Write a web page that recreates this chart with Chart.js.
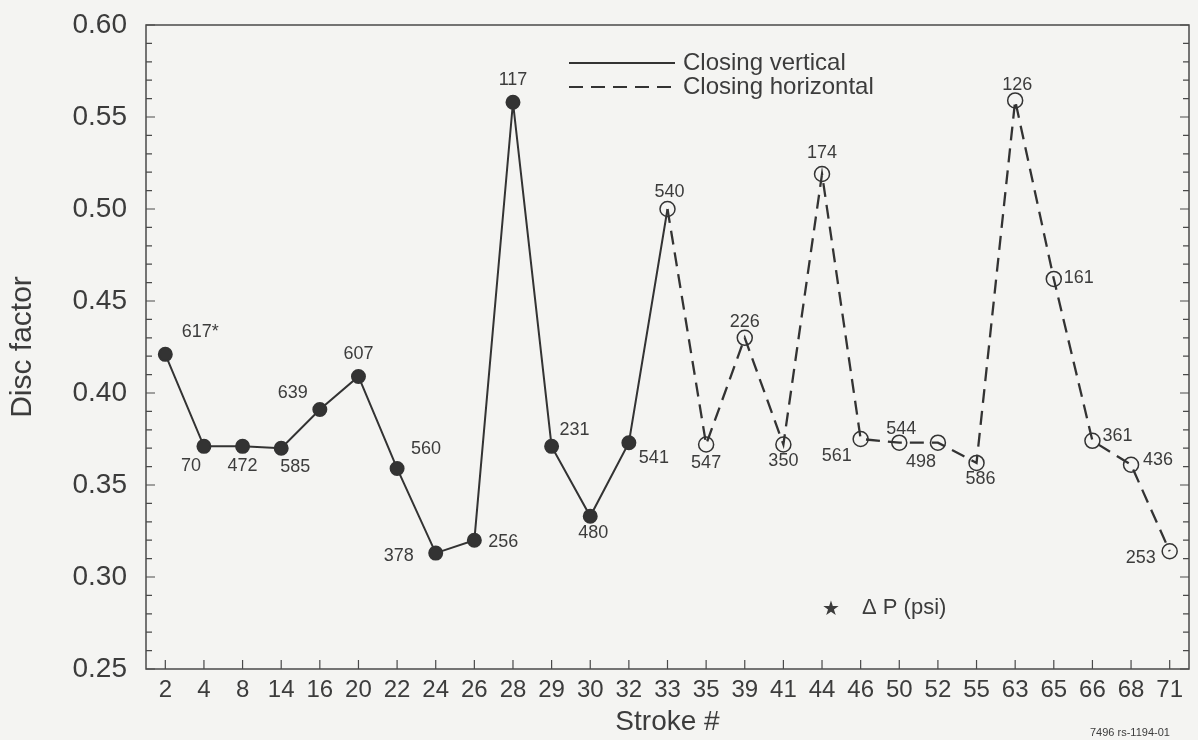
<!DOCTYPE html>
<html>
<head>
<meta charset="utf-8">
<title>Disc factor by stroke</title>
<script src="https://cdn.jsdelivr.net/npm/chart.js@4.4.1/dist/chart.umd.min.js"></script>
<style>
  html, body { margin: 0; padding: 0; background: #f4f4f2; }
  #wrap { width: 1198px; height: 740px; position: relative; }
</style>
</head>
<body>
<div id="wrap"><canvas id="discChart" width="1198" height="740"></canvas></div>
<script>
  // stroke numbers along the x axis
  const strokes = ["2", "4", "8", "14", "16", "20", "22", "24", "26", "28", "29", "30", "32", "33",
    "35", "39", "41", "44", "46", "50", "52", "55", "63", "65", "66", "68", "71"];

  // disc factor, closing vertical (strokes 2 .. 33)
  const closingVertical = [0.421, 0.371, 0.371, 0.370, 0.391, 0.409, 0.359, 0.313, 0.320, 0.558,
    0.371, 0.333, 0.373, 0.500];

  // disc factor, closing horizontal (strokes 33 .. 71)
  const closingHorizontal = [0.500, 0.372, 0.430, 0.372, 0.519, 0.375, 0.373, 0.373, 0.362, 0.559,
    0.462, 0.374, 0.361, 0.314];

  // delta P (psi) written next to each stroke
  const deltaP = ["617*", "70", "472", "585", "639", "607", "560", "378", "256", "117", "231", "480",
    "541", "540", "547", "226", "350", "174", "561", "544", "498", "586", "126", "161", "361", "436", "253"];

  const yTicks = [0.25, 0.30, 0.35, 0.40, 0.45, 0.50, 0.55, 0.60];

  const FONT = "'Liberation Sans', Arial, Helvetica, sans-serif";
  const INK = "#333";
  const TEXT = "#3c3c3c";

  const split = closingVertical.length - 1;
  const vertData = strokes.map((s, i) => (i <= split ? closingVertical[i] : null));
  const horizData = strokes.map((s, i) => (i >= split ? closingHorizontal[i - split] : null));

  // where each delta P label sits relative to its point
  const labelOffsets = [
    [35, -22], [-13, 20], [0, 20], [14, 19], [-27, -17], [0, -22], [29, -19], [-37, 3], [29, 2],
    [0, -22], [23, -16], [3, 17], [25, 15], [2, -17], [0, 19], [0, -16], [0, 17], [0, -21],
    [-24, 17], [2, -14], [-17, 19], [4, 16], [2, -15], [25, -1], [25, -5], [27, -5], [-29, 7]
  ];

  const paper = {
    id: "paper",
    beforeDraw(chart) {
      const ctx = chart.ctx;
      ctx.save();
      ctx.fillStyle = "#f4f4f2";
      ctx.fillRect(0, 0, chart.width, chart.height);
      ctx.restore();
    }
  };

  // plot frame with inward tick marks on left, right and bottom
  const frame = {
    id: "frame",
    beforeDatasetsDraw(chart) {
      const { ctx, chartArea: a, scales } = chart;
      ctx.save();
      ctx.strokeStyle = "#4a4a4a";
      ctx.lineWidth = 1.5;
      ctx.strokeRect(a.left, a.top, a.right - a.left, a.bottom - a.top);
      ctx.lineWidth = 1.2;
      ctx.beginPath();
      for (let i = 25; i <= 60; i++) {
        const y = scales.y.getPixelForValue(i / 100);
        const len = i % 5 === 0 ? 9 : 6;
        ctx.moveTo(a.left, y); ctx.lineTo(a.left + len, y);
        ctx.moveTo(a.right, y); ctx.lineTo(a.right - len, y);
      }
      strokes.forEach((s, i) => {
        const x = scales.x.getPixelForValue(i);
        ctx.moveTo(x, a.bottom); ctx.lineTo(x, a.bottom - 9);
      });
      ctx.stroke();
      ctx.restore();
    }
  };

  // delta P labels, legend and notes
  const notes = {
    id: "notes",
    afterDraw(chart) {
      const ctx = chart.ctx;
      ctx.save();
      ctx.fillStyle = TEXT;
      ctx.font = "18px " + FONT;
      ctx.textAlign = "center";
      ctx.textBaseline = "middle";
      const mv = chart.getDatasetMeta(0).data;
      const mh = chart.getDatasetMeta(1).data;
      deltaP.forEach((t, i) => {
        const p = i <= split ? mv[i] : mh[i];
        const [dx, dy] = labelOffsets[i];
        ctx.fillText(t, p.x + dx, p.y + dy);
      });

      // legend
      ctx.strokeStyle = INK;
      ctx.lineWidth = 2;
      ctx.beginPath();
      ctx.moveTo(569, 63); ctx.lineTo(675, 63);
      ctx.stroke();
      ctx.setLineDash([14, 8]);
      ctx.beginPath();
      ctx.moveTo(569, 87); ctx.lineTo(675, 87);
      ctx.stroke();
      ctx.setLineDash([]);
      ctx.textAlign = "left";
      ctx.font = "24px " + FONT;
      ctx.fillText("Closing vertical", 683, 63);
      ctx.fillText("Closing horizontal", 683, 87);

      ctx.font = "20px " + FONT;
      ctx.fillText("\u2605", 822, 609);
      ctx.font = "22px " + FONT;
      ctx.fillText("\u0394 P (psi)", 862, 608);

      ctx.font = "11px " + FONT;
      ctx.fillText("7496 rs-1194-01", 1090, 733);
      ctx.restore();
    }
  };

  new Chart(document.getElementById("discChart"), {
    type: "line",
    data: {
      labels: strokes,
      datasets: [
        {
          label: "Closing vertical",
          data: vertData,
          borderColor: INK,
          borderWidth: 2,
          pointBackgroundColor: INK,
          pointBorderColor: INK,
          pointRadius: strokes.map((s, i) => (i < split ? 6.5 : 0)),
          tension: 0,
          spanGaps: false
        },
        {
          label: "Closing horizontal",
          data: horizData,
          borderColor: INK,
          borderWidth: 2.3,
          borderDash: [14, 8],
          pointBackgroundColor: "rgba(0,0,0,0)",
          pointBorderColor: INK,
          pointBorderWidth: 1.5,
          pointRadius: 7.5,
          tension: 0,
          spanGaps: false
        }
      ]
    },
    options: {
      responsive: false,
      animation: false,
      layout: { padding: { left: 0, right: 2, top: 25, bottom: 0 } },
      plugins: {
        legend: { display: false },
        tooltip: { enabled: false }
      },
      scales: {
        x: {
          offset: true,
          grid: { display: false, drawTicks: false },
          border: { display: false },
          ticks: { color: TEXT, font: { family: FONT, size: 24 }, padding: 7, maxRotation: 0, autoSkip: false },
          title: { display: true, text: "Stroke #", color: TEXT, font: { family: FONT, size: 28 }, padding: { top: 0, bottom: 1 } },
          afterFit(scale) {
            scale.height = 71;
            scale.paddingLeft = 0;
            scale.paddingRight = 0;
          }
        },
        y: {
          min: 0.25,
          max: 0.60,
          afterBuildTicks(scale) { scale.ticks = yTicks.map(v => ({ value: v })); },
          grid: { display: false, drawTicks: false },
          border: { display: false },
          ticks: { color: TEXT, font: { family: FONT, size: 28 }, padding: 19, callback: v => v.toFixed(2) },
          title: { display: true, text: "Disc factor", color: TEXT, font: { family: FONT, size: 30 }, padding: { top: 5, bottom: 0 } },
          afterFit(scale) {
            scale.width = 146;
            scale.paddingTop = 0;
            scale.paddingBottom = 0;
          }
        }
      }
    },
    plugins: [paper, frame, notes]
  });
</script>
</body>
</html>
